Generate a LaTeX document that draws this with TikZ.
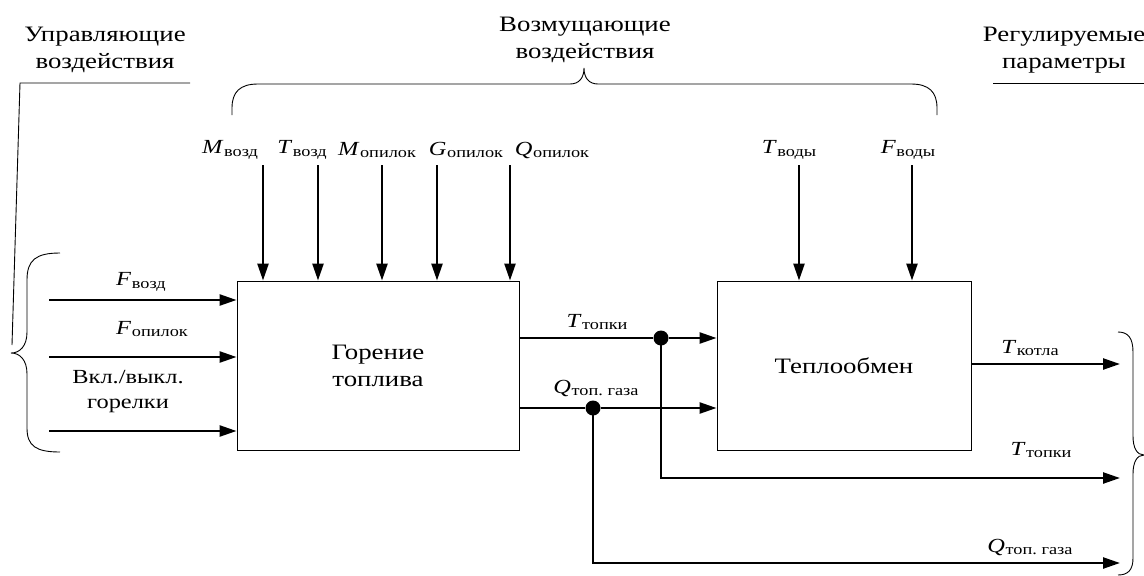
\documentclass[tikz,border=0pt]{standalone}
\usepackage{fontspec}
\setmainfont{Liberation Serif}[FakeStretch=1.22]
\usetikzlibrary{arrows.meta,calc}
\newcommand{\vlab}[2]{\textit{#1}\kern0.03em\raisebox{-0.25ex}{\fontsize{15}{15}\selectfont #2}}
\tikzset{
  blk/.style={draw, line width=0.9pt, inner sep=0pt},
  sig/.style={line width=2.4pt, -{Triangle[length=17pt,width=11pt]}},
  sigl/.style={line width=2.4pt},
  brc/.style={line width=0.9pt},
  dotn/.style={circle, fill=black, inner sep=0pt, minimum size=15pt},
  lab/.style={font=\fontsize{20}{20}\selectfont, inner sep=0pt},
  hdr/.style={font=\fontsize{22}{27}\selectfont, align=center, inner sep=0pt},
  txt/.style={font=\fontsize{22}{27}\selectfont, align=center, inner sep=0pt},
  txs/.style={font=\fontsize{20}{25}\selectfont, align=center, inner sep=0pt},
}
\begin{document}
\begin{tikzpicture}[x=1pt,y=-1pt]
\useasboundingbox (0,0) rectangle (1144,576);
% blocks
\node[blk, minimum width=282pt, minimum height=169pt] (b1) at (378,365.5) {};
\node[txt] (t1) at (b1.center) {Горение\\топлива};
\node[blk, minimum width=254pt, minimum height=169pt] (b2) at (844,365.5) {};
\node[txt] (t2) at (b2.center) {Теплообмен};
% headers
\node[hdr] (h1) at (105,50) {Управляющие\\воздействия};
\node[hdr] (h2) at (585,40) {Возмущающие\\воздействия};
\node[hdr] (h3) at (1064,50) {Регулируемые\\параметры};
% top disturbance inputs
\foreach \x/\n in {263/a,318/b,382/c,437/d,510/e}{
  \coordinate (s\n) at (\x,165);
  \draw[sig] (s\n) -- (s\n |- b1.north);
}
\foreach \x/\n in {799/f,912/g}{
  \coordinate (s\n) at (\x,165);
  \draw[sig] (s\n) -- (s\n |- b2.north);
}
\node[lab] (la) at (230,150) {\vlab{M}{возд}};
\node[lab] (lb) at (302,150) {\vlab{T}{возд}};
\node[lab] (lc) at (377,150) {\vlab{M}{опилок}};
\node[lab] (ld) at (466,150) {\vlab{G}{опилок}};
\node[lab] (le) at (552,150) {\vlab{Q}{опилок}};
\node[lab] (lf) at (789,150) {\vlab{T}{воды}};
\node[lab] (lg) at (908,150) {\vlab{F}{воды}};
% left inputs
\coordinate (i1) at (49,300);
\coordinate (i2) at (49,357);
\coordinate (i3) at (49,431);
\draw[sig] (i1) -- (i1 -| b1.west);
\draw[sig] (i2) -- (i2 -| b1.west);
\draw[sig] (i3) -- (i3 -| b1.west);
\node[lab] (li1) at (141,282) {\vlab{F}{возд}};
\node[lab] (li2) at (152,329) {\vlab{F}{опилок}};
\node[txs] (li3) at (128,392) {Вкл./выкл.\\горелки};
% middle signals
\coordinate (m1) at (b1.east |- 0,338);
\coordinate (m2) at (b1.east |- 0,408);
\node[dotn] (d1) at (661,338) {};
\node[dotn] (d2) at (593,408) {};
\draw[sigl] (m1) -- (d1);
\draw[sig] (d1) -- (d1 -| b2.west);
\draw[sigl] (m2) -- (d2);
\draw[sig] (d2) -- (d2 -| b2.west);
\node[lab] (lm1) at (597,322) {\vlab{T}{топки}};
\node[lab] (lm2) at (596,388) {\vlab{Q}{топ.~газа}};
% outputs
\coordinate (o1) at (1120,364);
\coordinate (o2) at (1120,478);
\coordinate (o3) at (1120,563);
\draw[sig] (b2.east |- o1) -- (o1);
\draw[sig] (d1.center) -- (d1 |- o2) -- (o2);
\draw[sig] (d2.center) -- (d2 |- o3) -- (o3);
\node[lab] (lo1) at (1030,348) {\vlab{T}{котла}};
\node[lab] (lo2) at (1041,450) {\vlab{T}{топки}};
\node[lab] (lo3) at (1030,547) {\vlab{Q}{топ.~газа}};
% header underlines
\coordinate (u1a) at (20,83); \coordinate (u1b) at (190,83);
\draw[brc] (u1b) -- (u1a) -- (12,345);
\coordinate (u3a) at (993,83); \coordinate (u3b) at (1144,83);
\draw[brc] (u3a) -- (u3b);
% left brace
\draw[brc] (60,253) .. controls (36,253) and (27,260) .. (27,280) -- (27,332)
  .. controls (27,346) and (20,353) .. (11,353)
  .. controls (20,353) and (27,360) .. (27,374) -- (27,428)
  .. controls (27,446) and (36,452) .. (60,452);
% top brace
\draw[brc] (232,115) -- (232,108) .. controls (232,92) and (240,84) .. (258,84) -- (570,84)
  .. controls (579,84) and (584,78) .. (584,68)
  .. controls (584,78) and (589,84) .. (598,84) -- (911,84)
  .. controls (929,84) and (937,92) .. (937,108) -- (937,115);
% right brace
\draw[brc] (1118,332) .. controls (1128,332) and (1133,338) .. (1133,352) -- (1133,436)
  .. controls (1133,448) and (1137,455) .. (1144,455)
  .. controls (1137,455) and (1133,462) .. (1133,474) -- (1133,558)
  .. controls (1133,570) and (1128,575) .. (1118,575);
\end{tikzpicture}
\end{document}
